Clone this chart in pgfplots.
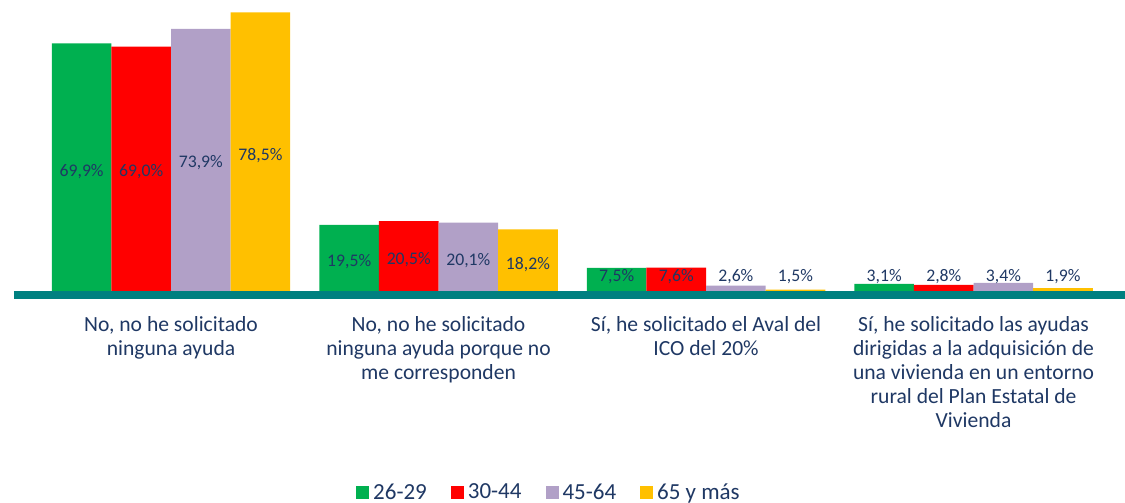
\documentclass[border=0pt]{standalone}
\usepackage{fontspec}
\setmainfont{Carlito}
\usepackage{pgfplots}
\pgfplotsset{compat=1.18}

\definecolor{cgreen}{RGB}{0,176,80}
\definecolor{cred}{RGB}{255,0,0}
\definecolor{clav}{RGB}{177,160,199}
\definecolor{cgold}{RGB}{255,192,0}
\definecolor{cteal}{RGB}{0,128,128}
\definecolor{navy}{RGB}{31,56,100}

\begin{document}
\begin{tikzpicture}
\begin{axis}[
  scale only axis, width=555.5pt, height=147.5pt,
  xmin=-0.587, xmax=3.566, ymin=0, ymax=81.94,
  ybar=0pt, bar width=29.8pt,
  axis on top, hide y axis, axis x line*=bottom,
  x axis line style={cteal, line width=4pt, -},
  xtick={0,1,2,3}, major tick length=0pt,
  xticklabels={{No, no he solicitado\\ninguna ayuda},
    {No, no he solicitado\\ninguna ayuda porque no\\me corresponden},
    {Sí, he solicitado el Aval del\\ICO del 20\%},
    {Sí, he solicitado las ayudas\\dirigidas a la adquisición de\\una vivienda en un entorno\\rural del Plan Estatal de\\Vivienda}},
  xticklabel style={align=center, font=\fontsize{10.8}{12}\selectfont, text=navy,
    anchor=north, inner sep=0pt, yshift=-10.5pt},
  legend style={at={(axis description cs:0.4824,-0.671)}, anchor=center, draw=none,
    font=\fontsize{11.5}{13}\selectfont, text=navy,
    /tikz/every even column/.append style={column sep=10pt}},
  legend columns=4,
  legend image code/.code={\fill[#1] (-1pt,-3.25pt) rectangle (5.5pt,3.25pt);},
  /pgf/number format/.cd, fixed, fixed zerofill, precision=1, use comma, assume math mode=true,
  /pgfplots/.cd,
  vlabel/.style={draw=none, fill=none, forget plot, point meta=explicit,
    nodes near coords={\pgfmathprintnumber{\pgfplotspointmeta}\%},
    every node near coord/.append style={anchor=center, text=navy,
      font=\fontsize{8.85}{10}\selectfont, inner sep=0pt}},
]
\coordinate (o) at (rel axis cs:0,0);
% bars
\addplot[fill=cgreen, draw=none, bar shift=-44.7pt] coordinates {(0,69.9) (1,19.5) (2,7.5) (3,3.1)};
\addlegendentry{26-29}
\addplot[fill=cred, draw=none, bar shift=-14.9pt] coordinates {(0,69.0) (1,20.5) (2,7.6) (3,2.8)};
\addlegendentry{30-44}
\addplot[fill=clav, draw=none, bar shift=14.9pt] coordinates {(0,73.9) (1,20.1) (2,2.6) (3,3.4)};
\addlegendentry{45-64}
\addplot[fill=cgold, draw=none, bar shift=44.7pt] coordinates {(0,78.5) (1,18.2) (2,1.5) (3,1.9)};
\addlegendentry{65 y más}
% value labels (y = label position)
\addplot[vlabel, bar shift=-44.7pt] coordinates {(0,34.2)[69.9] (1,9.4)[19.5] (2,5.1)[7.5] (3,5.1)[3.1]};
\addplot[vlabel, bar shift=-14.9pt] coordinates {(0,34.2)[69.0] (1,9.7)[20.5] (2,5.1)[7.6] (3,5.1)[2.8]};
\addplot[vlabel, bar shift=14.9pt] coordinates {(0,36.7)[73.9] (1,9.6)[20.1] (2,5.1)[2.6] (3,5.1)[3.4]};
\addplot[vlabel, bar shift=44.7pt] coordinates {(0,38.7)[78.5] (1,8.5)[18.2] (2,5.1)[1.5] (3,5.1)[1.9]};
\end{axis}
\pgfresetboundingbox
\path[use as bounding box] ([shift={(-7pt,-104pt)}]o) rectangle ([shift={(555.5pt,147.5pt)}]o);
\end{tikzpicture}
\end{document}
